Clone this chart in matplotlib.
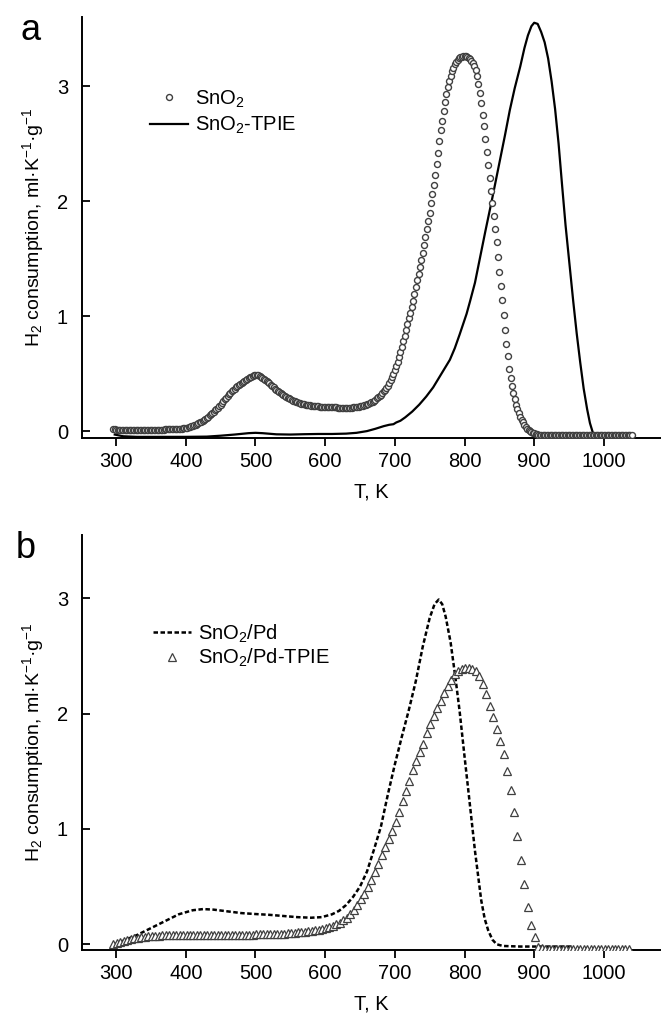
import numpy as np
import matplotlib
matplotlib.use("Agg")
from matplotlib import pyplot as plt

plt.rcParams['font.family'] = ['Liberation Sans', 'DejaVu Sans']
plt.rcParams['mathtext.default'] = 'regular'

# ---------------- data ----------------
# panel a, SnO2 (open circles), every 2 K from 296 K
t_sno2 = np.arange(296, 1041, 2)
h2_sno2 = [
    0.02, 0.015, 0.012, 0.01, 0.01, 0.01, 0.01, 0.01, 0.01, 0.01,
    0.01, 0.01, 0.01, 0.01, 0.01, 0.01, 0.01, 0.01, 0.01, 0.01,
    0.01, 0.01, 0.01, 0.011, 0.011, 0.011, 0.012, 0.012, 0.012, 0.012,
    0.012, 0.012, 0.013, 0.013, 0.013, 0.013, 0.013, 0.014, 0.014, 0.014,
    0.014, 0.015, 0.015, 0.016, 0.017, 0.018, 0.019, 0.02, 0.021, 0.022,
    0.023, 0.024, 0.026, 0.029, 0.032, 0.036, 0.04, 0.045, 0.05, 0.056,
    0.062, 0.068, 0.075, 0.083, 0.091, 0.099, 0.107, 0.116, 0.126, 0.137,
    0.148, 0.159, 0.17, 0.181, 0.193, 0.205, 0.218, 0.231, 0.245, 0.26,
    0.275, 0.29, 0.305, 0.32, 0.333, 0.345, 0.357, 0.369, 0.38, 0.391,
    0.401, 0.411, 0.42, 0.429, 0.438, 0.446, 0.454, 0.461, 0.468, 0.474,
    0.48, 0.485, 0.488, 0.488, 0.485, 0.48, 0.473, 0.465, 0.456, 0.446,
    0.436, 0.425, 0.414, 0.403, 0.392, 0.381, 0.37, 0.359, 0.349, 0.339,
    0.33, 0.321, 0.313, 0.305, 0.298, 0.291, 0.284, 0.278, 0.272, 0.266,
    0.261, 0.256, 0.251, 0.247, 0.243, 0.239, 0.236, 0.233, 0.23, 0.227,
    0.225, 0.223, 0.221, 0.219, 0.217, 0.216, 0.215, 0.214, 0.213, 0.212,
    0.211, 0.21, 0.21, 0.209, 0.209, 0.208, 0.208, 0.207, 0.207, 0.206,
    0.206, 0.205, 0.205, 0.205, 0.204, 0.204, 0.204, 0.204, 0.204, 0.204,
    0.205, 0.205, 0.206, 0.207, 0.208, 0.21, 0.212, 0.215, 0.218, 0.222,
    0.226, 0.23, 0.234, 0.239, 0.244, 0.25, 0.257, 0.265, 0.274, 0.284,
    0.295, 0.306, 0.318, 0.331, 0.345, 0.36, 0.377, 0.396, 0.418, 0.443,
    0.47, 0.5, 0.53, 0.565, 0.6, 0.64, 0.685, 0.73, 0.78, 0.83,
    0.88, 0.93, 0.98, 1.03, 1.08, 1.13, 1.19, 1.25, 1.31, 1.37,
    1.43, 1.49, 1.55, 1.62, 1.69, 1.76, 1.83, 1.9, 1.98, 2.06,
    2.14, 2.23, 2.32, 2.42, 2.52, 2.62, 2.7, 2.78, 2.86, 2.93,
    2.99, 3.04, 3.09, 3.13, 3.16, 3.19, 3.21, 3.23, 3.24, 3.25,
    3.255, 3.26, 3.26, 3.258, 3.252, 3.245, 3.235, 3.22, 3.2, 3.17,
    3.14, 3.09, 3.02, 2.94, 2.85, 2.75, 2.65, 2.54, 2.43, 2.31,
    2.2, 2.09, 1.98, 1.87, 1.76, 1.64, 1.51, 1.38, 1.26, 1.14,
    1.01, 0.88, 0.76, 0.65, 0.54, 0.46, 0.39, 0.33, 0.28, 0.23,
    0.19, 0.155, 0.125, 0.1, 0.075, 0.055, 0.037, 0.022, 0.01, 0.0,
    -0.008, -0.015, -0.02, -0.025, -0.028, -0.03, -0.032, -0.033, -0.034, -0.035,
    -0.035, -0.035, -0.035, -0.035, -0.035, -0.035, -0.035, -0.035, -0.035, -0.035,
    -0.035, -0.035, -0.035, -0.035, -0.035, -0.035, -0.035, -0.035, -0.035, -0.035,
    -0.035, -0.035, -0.035, -0.035, -0.035, -0.035, -0.035, -0.035, -0.035, -0.035,
    -0.035, -0.035, -0.035, -0.035, -0.035, -0.035, -0.035, -0.035, -0.035, -0.035,
    -0.035, -0.035, -0.035, -0.035, -0.035, -0.035, -0.035, -0.035, -0.035, -0.035,
    -0.035, -0.035, -0.035, -0.035, -0.035, -0.035, -0.035, -0.035, -0.035, -0.035,
    -0.035, -0.035, -0.035,
]

# panel a, SnO2-TPIE (solid line)
t_sno2_tpie = [298, 310, 330, 360, 400, 430, 450, 470, 490, 500, 510, 530, 550,
               570, 590, 610, 630, 645, 660, 672, 684, 692, 698, 702, 708, 715,
               725, 735, 745, 755, 765, 772, 779, 786, 793, 798, 803, 808, 815,
               822, 830, 839, 845, 851, 858, 865, 872, 880, 886, 891, 896, 900,
               905, 910, 915, 920, 925, 930, 935, 940, 945, 951, 956, 961, 966,
               971, 976, 980, 984, 988, 995, 1040]
h2_sno2_tpie = [-0.03, -0.045, -0.05, -0.05, -0.05, -0.048, -0.04, -0.03, -0.018,
                -0.015, -0.018, -0.028, -0.03, -0.027, -0.025, -0.025, -0.022,
                -0.015, 0.0, 0.02, 0.043, 0.055, 0.06, 0.075, 0.09, 0.12, 0.17,
                0.23, 0.3, 0.38, 0.48, 0.55, 0.62, 0.72, 0.84, 0.93, 1.02, 1.13,
                1.29, 1.5, 1.74, 2.0, 2.18, 2.36, 2.57, 2.79, 2.98, 3.17, 3.33,
                3.44, 3.52, 3.55, 3.54, 3.47, 3.38, 3.24, 3.04, 2.8, 2.5, 2.14,
                1.79, 1.43, 1.13, 0.85, 0.6, 0.37, 0.19, 0.07, -0.01, -0.05,
                -0.06, -0.06]

# panel b, SnO2/Pd (dashed line)
t_pd = [298, 310, 330, 350, 370, 390, 410, 425, 440, 460, 480, 500, 520, 540,
        560, 580, 595, 610, 620, 630, 640, 650, 660, 670, 680, 690, 700, 710,
        720, 730, 740, 750, 757, 763, 768, 773, 780, 787, 793, 800, 807, 815,
        824, 829, 834, 840, 846, 855, 880, 956]
h2_pd = [0.0, 0.03, 0.08, 0.14, 0.2, 0.26, 0.295, 0.305, 0.3, 0.285, 0.27,
         0.262, 0.255, 0.245, 0.235, 0.23, 0.235, 0.26, 0.29, 0.34, 0.41, 0.5,
         0.63, 0.82, 1.02, 1.3, 1.56, 1.8, 2.03, 2.28, 2.58, 2.83, 2.95, 2.99,
         2.95, 2.84, 2.62, 2.31, 2.02, 1.63, 1.25, 0.81, 0.38, 0.22, 0.12, 0.04,
         0.0, -0.015, -0.02, -0.02]

# panel b, SnO2/Pd-TPIE (open triangles), every 5 K from 296 K
t_pd_tpie = np.arange(296, 1037, 5)
h2_pd_tpie = [
    0.0, 0.01, 0.02, 0.03, 0.038, 0.045, 0.052, 0.058, 0.063, 0.067,
    0.07, 0.072, 0.074, 0.075, 0.076, 0.077, 0.077, 0.078, 0.078, 0.078,
    0.078, 0.078, 0.079, 0.079, 0.079, 0.079, 0.08, 0.08, 0.08, 0.08,
    0.08, 0.081, 0.081, 0.081, 0.082, 0.082, 0.082, 0.083, 0.083, 0.084,
    0.084, 0.085, 0.086, 0.087, 0.088, 0.089, 0.09, 0.091, 0.092, 0.093,
    0.095, 0.097, 0.099, 0.102, 0.105, 0.108, 0.111, 0.115, 0.12, 0.126,
    0.133, 0.14, 0.15, 0.16, 0.172, 0.188, 0.207, 0.23, 0.26, 0.295,
    0.34, 0.39, 0.44, 0.5, 0.56, 0.63, 0.7, 0.77, 0.84, 0.91,
    0.98, 1.06, 1.15, 1.24, 1.33, 1.42, 1.51, 1.59, 1.67, 1.74,
    1.83, 1.91, 1.98, 2.05, 2.11, 2.18, 2.24, 2.29, 2.34, 2.37,
    2.39, 2.4, 2.4, 2.39, 2.37, 2.33, 2.26, 2.17, 2.07, 1.97,
    1.87, 1.76, 1.65, 1.5, 1.34, 1.15, 0.94, 0.73, 0.52, 0.32,
    0.17, 0.06, -0.02, -0.035, -0.04, -0.042, -0.043, -0.044, -0.044, -0.045,
    -0.045, -0.045, -0.045, -0.045, -0.045, -0.045, -0.045, -0.045, -0.045, -0.045,
    -0.045, -0.045, -0.045, -0.045, -0.045, -0.045, -0.045, -0.045, -0.045,
]

x_ticks = [300, 400, 500, 600, 700, 800, 900, 1000]
y_ticks = [0, 1, 2, 3]
y_label = 'H$_2$ consumption, ml·K$^{-1}$·g$^{-1}$'
x_label = 'T, K'

# ---------------- figure ----------------
W, H = 661, 1019
fig = plt.figure(figsize=(W / 100, H / 100), dpi=100)

def px_axes(left, top, right, bottom):
    return fig.add_axes([left / W, 1 - bottom / H, (right - left) / W, (bottom - top) / H])

ax1 = px_axes(82, 17, 661, 438)
ax2 = px_axes(82, 535, 661, 950)

ax1.plot(t_sno2, h2_sno2, ls='none', marker='o', ms=4.3, mfc='white',
         mec='#404040', mew=1.0, label='SnO$_2$', zorder=3)
ax1.plot(t_sno2_tpie, h2_sno2_tpie, color='black', lw=1.6, label='SnO$_2$-TPIE', zorder=2)
ax1.set_ylim(-0.06, 3.6)

ax2.plot(t_pd, h2_pd, color='black', lw=1.8, ls=(0, (1.8, 1.0)), label='SnO$_2$/Pd', zorder=2)
ax2.plot(t_pd_tpie, h2_pd_tpie, ls='none', marker='^', ms=5.5, mfc='white',
         mec='#404040', mew=0.9, label='SnO$_2$/Pd-TPIE', zorder=3)
ax2.set_ylim(-0.05, 3.55)

for ax in (ax1, ax2):
    ax.set_xlim(251, 1082)
    ax.set_xticks(x_ticks)
    ax.set_yticks(y_ticks)
    ax.spines['top'].set_visible(False)
    ax.spines['right'].set_visible(False)
    ax.spines['left'].set_linewidth(1.4)
    ax.spines['bottom'].set_linewidth(1.4)
    ax.tick_params(axis='x', direction='out', length=6, width=1.3, labelsize=14.5, pad=4)
    ax.tick_params(axis='y', direction='in', length=6, width=1.3, labelsize=14.5, pad=10)
    ax.set_xlabel(x_label, fontsize=14.5, labelpad=8)
    ax.set_ylabel(y_label, fontsize=14, labelpad=8)

ax1.legend(loc='center left', bbox_to_anchor=(0.1036, 0.774), frameon=False,
           borderaxespad=0, fontsize=14.5, handlelength=1.9, handletextpad=0.35,
           labelspacing=0.25)
ax2.legend(loc='center left', bbox_to_anchor=(0.109, 0.733), frameon=False,
           borderaxespad=0, fontsize=14.5, handlelength=1.9, handletextpad=0.35,
           labelspacing=0.12)

fig.text(20 / W, 1 - 30 / H, 'a', fontsize=26, ha='left', va='center')
fig.text(16 / W, 1 - 548 / H, 'b', fontsize=26, ha='left', va='center')

fig.savefig('out.png', dpi=100)
